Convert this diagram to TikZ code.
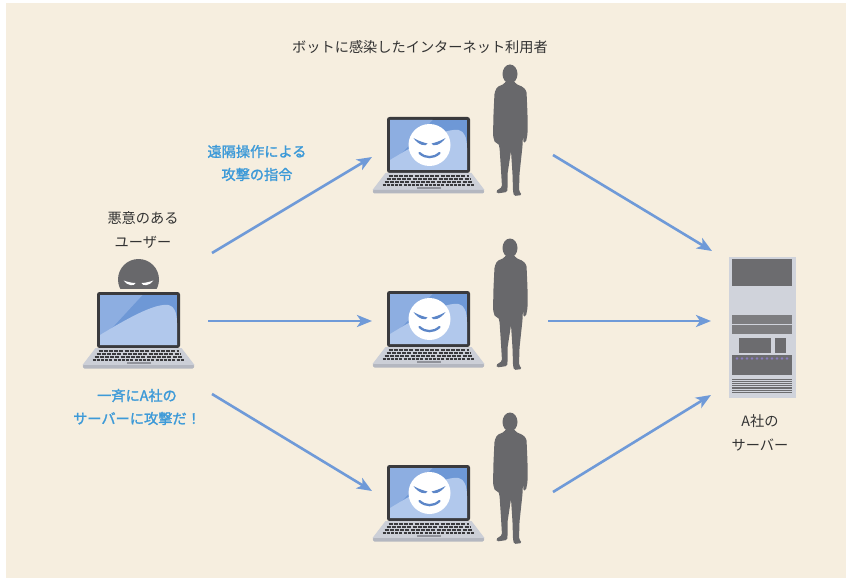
\documentclass[tikz,border=0pt]{standalone}
\usepackage{fontspec}
\newfontfamily\jp{Noto Sans CJK JP}
\newfontfamily\jpsemi[FakeBold=1.6]{Noto Sans CJK JP}
\usetikzlibrary{arrows.meta}

\definecolor{bgpanel}{HTML}{F6EEDF}
\definecolor{arrowblue}{HTML}{6F9AD8}
\definecolor{textblue}{HTML}{3D9AD8}
\definecolor{textdark}{HTML}{333333}
\definecolor{silhouette}{HTML}{68686B}
\definecolor{screenblue}{HTML}{6E98D6}
\definecolor{screenmid}{HTML}{8DAEE1}
\definecolor{screenlight}{HTML}{B1C8EC}
\definecolor{bezel}{HTML}{3A3A3D}
\definecolor{deck}{HTML}{CCCFD7}
\definecolor{deckedge}{HTML}{B4B7C0}
\definecolor{faceblue}{HTML}{5C86C8}
\definecolor{servergray}{HTML}{D0D3DB}
\definecolor{paneldark}{HTML}{6C6C6F}
\definecolor{panelmid}{HTML}{7D7D80}
\definecolor{ledpurple}{HTML}{8A7CC0}

\tikzset{
  label/.style={font=\jp\fontsize{14.2}{24}\selectfont, text=textdark, align=center, inner sep=0},
  bluelabel/.style={label, font=\jpsemi\fontsize{14.2}{23}\selectfont, text=textblue},
  flow/.style={draw=arrowblue, line width=2.6pt, -{Stealth[length=15pt,width=12pt,inset=4pt]}},
  % notebook, origin at the hinge centre
  laptop/.pic={
    \fill[bezel, rounded corners=2.5pt] (-41.5,-55) rectangle (41.5,1);
    \fill[screenblue] (-38.5,-52) rectangle (38.5,-2);
    \fill[screenmid] (-38.5,-52) -- (4,-52) -- (-38.5,-6) -- cycle;
    \fill[screenlight] (-38.5,-12) .. controls (-12,-28) and (16,-44) .. (30,-42)
      .. controls (36,-41) and (38.5,-34) .. (38.5,-24) -- (38.5,-2) -- (-38.5,-2) -- cycle;
    \fill[deck] (-43,1) -- (43,1) -- (56,18) -- (-56,18) -- cycle;
    \fill[deckedge, rounded corners=1pt] (-56,18) -- (56,18) -- (55,21.5) -- (-55,21.5) -- cycle;
    \draw[bezel, line width=1.7pt, dash pattern=on 4pt off 1.2pt] (-40,4) -- (40,4);
    \draw[bezel, line width=1.7pt, dash pattern=on 4pt off 1.2pt] (-42,7) -- (42,7);
    \draw[bezel, line width=1.7pt, dash pattern=on 4pt off 1.2pt] (-44,10) -- (44,10);
    \draw[bezel, line width=1.7pt, dash pattern=on 3pt off 1.2pt] (-46,13) -- (46,13);
    \fill[deckedge!80!black] (-12,15) rectangle (12,16.6);
  },
  % grinning face on an infected screen, origin at the face centre
  botface/.pic={
    \fill[white] (0,0) circle (21);
    \fill[faceblue] (-16,-7) .. controls (-11,-4) and (-6,-2.5) .. (-2,-1.5)
      .. controls (-3,2) and (-11,0.5) .. cycle;
    \fill[faceblue] (16,-7) .. controls (11,-4) and (6,-2.5) .. (2,-1.5)
      .. controls (3,2) and (11,0.5) .. cycle;
    \draw[faceblue, line width=2.3pt, line cap=round] (-10,8) .. controls (-4,13.5) and (4,13.5) .. (10,8);
  },
  % masked head of the attacker, origin at the circle centre
  masked/.pic={
    \begin{scope}
      \clip (-22,-22) rectangle (22,8.5);
      \fill[silhouette] (0,0) circle (20.5);
    \end{scope}
    \fill[white] (-15,1) .. controls (-11,2.5) and (-6,3.5) .. (-3,3.5)
      .. controls (-4,7) and (-11,6.5) .. cycle;
    \fill[white] (15,1) .. controls (11,2.5) and (6,3.5) .. (3,3.5)
      .. controls (4,7) and (11,6.5) .. cycle;
  },
  % standing person, origin at the head centre
  person/.pic={
    \fill[silhouette] (0,0) ellipse (7.5 and 9.5);
    \fill[silhouette, rounded corners=1.5pt]
      (-4,7) -- (4,7) -- (6,10) -- (13,13) -- (16.5,17) -- (17.5,40) -- (17.5,60)
      -- (16,68) -- (13.5,69) -- (13,60) -- (12.5,72) -- (9.5,100) -- (9,117)
      -- (12,121) -- (4,122) -- (3,117) -- (2.5,100) -- (1,77) -- (-2.5,100)
      -- (-2.5,115) -- (-3,118) -- (-13,119.5) -- (-14,117) -- (-8,113) -- (-9,96)
      -- (-10.5,73) -- (-12,69) -- (-15,69) -- (-17,62) -- (-16.5,40) -- (-15.5,19)
      -- (-13,13) -- (-6,10) -- cycle;
  },
  % rack server, origin at its top-left corner
  server/.pic={
    \fill[servergray] (0,0) rectangle (67,141);
    \fill[paneldark] (3,2) rectangle (63,29);
    \fill[panelmid] (3,58) rectangle (63,67);
    \fill[panelmid] (3,68) rectangle (63,77);
    \fill[paneldark] (10,81) rectangle (42,96);
    \fill[paneldark] (46,81) rectangle (57,96);
    \fill[paneldark] (3,98) rectangle (63,118);
    \foreach \k in {0,...,10} \fill[ledpurple] (8+\k*5,101.5) circle (1.4);
    \foreach \k in {0,...,6} \fill[paneldark] (3,121.5+\k*2.2) rectangle (63,122.7+\k*2.2);
  }
}

\begin{document}
\begin{tikzpicture}[x=1pt, y=-1pt]
  \useasboundingbox (0,0) rectangle (848,580);
  \fill[white] (0,0) rectangle (848,580);
  \fill[bgpanel] (6,3) rectangle (846,578);

  % the attacker
  \pic at (138.5,279.5) {masked};
  \pic at (138.5,347) {laptop};
  \node[label] (attacker) at (143,230) {悪意のある\\ユーザー};
  \node[bluelabel] (order) at (137,407) {一斉にA社の\\サーバーに攻撃だ！};

  % the infected users
  \node[label] (botnet) at (420,47) {ボットに感染したインターネット利用者};
  \foreach \n/\y in {top/0, mid/174, low/348} {
    \pic at (428.5,172+\y) {laptop};
    \pic at (429.5,145+\y) {botface};
    \pic at (510,74+\y) {person};
  }
  \node[bluelabel] (remote) at (257,163) {遠隔操作による\\攻撃の指令};

  % the target server
  \pic at (729,257) {server};
  \node[label] (target) at (760,433) {A社の\\サーバー};

  % arrow end points
  \coordinate (atk-top) at (212,253);
  \coordinate (atk-mid) at (208,321);
  \coordinate (atk-low) at (212,394);
  \coordinate (bot-top-in) at (372,157);
  \coordinate (bot-mid-in) at (372,321);
  \coordinate (bot-low-in) at (372,491);
  \coordinate (bot-top-out) at (553,155);
  \coordinate (bot-mid-out) at (548,321);
  \coordinate (bot-low-out) at (553,492);
  \coordinate (srv-top) at (712,251);
  \coordinate (srv-mid) at (711,321);
  \coordinate (srv-low) at (711,395);

  \draw[flow] (atk-top) -- (bot-top-in);
  \draw[flow] (atk-mid) -- (bot-mid-in);
  \draw[flow] (atk-low) -- (bot-low-in);
  \draw[flow] (bot-top-out) -- (srv-top);
  \draw[flow] (bot-mid-out) -- (srv-mid);
  \draw[flow] (bot-low-out) -- (srv-low);
\end{tikzpicture}
\end{document}
